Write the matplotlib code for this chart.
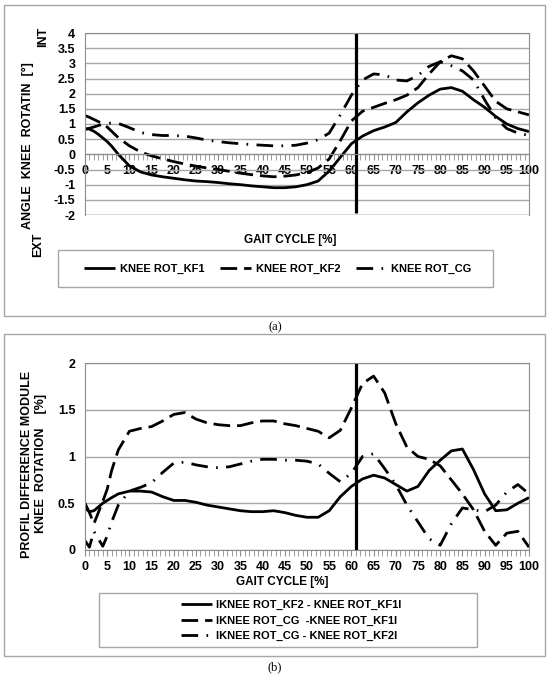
import matplotlib.pyplot as plt
from matplotlib.patches import Rectangle
from matplotlib.ticker import MultipleLocator, FuncFormatter

plt.rcParams['font.family'] = ['Liberation Sans', 'DejaVu Sans']
plt.rcParams['font.weight'] = 'bold'

# gait cycle positions [%]
gait = [0, 1, 2, 3, 4, 5, 6, 7.5, 10, 12.5, 15, 17.5, 20, 22.5, 25, 27.5, 30, 32.5, 35, 37.5,
        40, 42.5, 45, 47.5, 50, 52.5, 55, 57.5, 60, 62.5, 65, 67.5, 70, 72.5, 75, 77.5, 80,
        82.5, 85, 87.5, 90, 92.5, 95, 97.5, 100]

# (a) knee rotation angle [deg]
rot_kf1 = [0.85, 0.83, 0.76, 0.66, 0.54, 0.42, 0.27, 0.0, -0.38, -0.58, -0.68, -0.74, -0.79,
           -0.84, -0.88, -0.9, -0.93, -0.97, -1.0, -1.04, -1.07, -1.1, -1.1, -1.07, -1.0,
           -0.88, -0.55, -0.1, 0.35, 0.6, 0.78, 0.9, 1.05, 1.4, 1.7, 1.95, 2.15, 2.2, 2.08,
           1.8, 1.55, 1.25, 1.0, 0.85, 0.75]
rot_kf2 = [1.28, 1.22, 1.15, 1.08, 1.0, 0.9, 0.76, 0.55, 0.28, 0.08, -0.05, -0.15, -0.24,
           -0.32, -0.39, -0.45, -0.5, -0.56, -0.62, -0.67, -0.71, -0.74, -0.72, -0.68, -0.6,
           -0.45, -0.15, 0.45, 1.1, 1.42, 1.55, 1.68, 1.8, 1.95, 2.2, 2.65, 3.05, 3.25, 3.15,
           2.75, 2.25, 1.75, 1.5, 1.4, 1.3]
rot_cg = [0.82, 0.86, 0.9, 0.95, 0.99, 1.02, 1.03, 1.02, 0.88, 0.72, 0.65, 0.62, 0.62, 0.6,
          0.54, 0.47, 0.42, 0.38, 0.35, 0.32, 0.3, 0.28, 0.28, 0.3, 0.37, 0.48, 0.7, 1.3,
          1.95, 2.45, 2.65, 2.62, 2.45, 2.42, 2.6, 2.9, 3.05, 2.92, 2.75, 2.45, 1.8, 1.2,
          0.85, 0.7, 0.62]

# (b) profile difference module
diff_kf2_kf1 = [0.45, 0.41, 0.42, 0.46, 0.5, 0.53, 0.56, 0.6, 0.63, 0.63, 0.62, 0.57, 0.53,
                0.53, 0.51, 0.48, 0.46, 0.44, 0.42, 0.41, 0.41, 0.42, 0.4, 0.37, 0.35, 0.35,
                0.42, 0.57, 0.68, 0.76, 0.8, 0.77, 0.7, 0.63, 0.68, 0.85, 0.96, 1.06, 1.08,
                0.86, 0.6, 0.42, 0.43, 0.5, 0.56]
diff_cg_kf1 = [0.5, 0.4, 0.28, 0.4, 0.52, 0.65, 0.85, 1.07, 1.27, 1.3, 1.32, 1.38, 1.45, 1.47,
               1.4, 1.36, 1.34, 1.33, 1.33, 1.36, 1.38, 1.38, 1.35, 1.33, 1.3, 1.27, 1.2,
               1.28, 1.52, 1.78, 1.86, 1.68, 1.35, 1.1, 1.0, 0.97, 0.9, 0.75, 0.6, 0.43, 0.2,
               0.05, 0.18, 0.2, 0.03]
diff_cg_kf2 = [0.1, 0.03, 0.2, 0.12, 0.04, 0.15, 0.3, 0.48, 0.63, 0.67, 0.72, 0.83, 0.93, 0.94,
               0.91, 0.89, 0.88, 0.89, 0.92, 0.95, 0.97, 0.97, 0.96, 0.96, 0.95, 0.92, 0.82,
               0.73, 0.82, 1.0, 1.03, 0.87, 0.7, 0.48, 0.3, 0.12, 0.05, 0.28, 0.45, 0.43, 0.41,
               0.48, 0.62, 0.7, 0.6]

toe_off = 61
toe_off_low = -1.95

labels_a = ['KNEE ROT_KF1', 'KNEE ROT_KF2', 'KNEE ROT_CG']
labels_b = ['IKNEE ROT_KF2 - KNEE ROT_KF1I', 'IKNEE ROT_CG  -KNEE ROT_KF1I',
            'IKNEE ROT_CG - KNEE ROT_KF2I']

styles = ['-', (0, (6, 2.5)), (0, (6, 3, 0.6, 3))]
GRAY = '#a6a6a6'
SPINE = '#8c8c8c'

W, H = 550, 677
def fx(px):
    return px / W
def fy(py):
    return 1 - py / H

fig = plt.figure(figsize=(5.5, 6.77), dpi=100)

# outer panel boxes
for top, bottom in [(5, 316), (334, 656)]:
    fig.add_artist(Rectangle((fx(4), fy(bottom)), fx(545) - fx(4), (bottom - top) / H,
                             transform=fig.transFigure, fill=False, ec=GRAY, lw=1))

ax1 = fig.add_axes([fx(85), fy(215), fx(529) - fx(85), (215 - 33) / H])
ax2 = fig.add_axes([fx(85), fy(550), fx(529) - fx(85), (550 - 363) / H])

fmt = FuncFormatter(lambda v, p: '{:g}'.format(v))

for ax, series, labs in [(ax1, [rot_kf1, rot_kf2, rot_cg], labels_a),
                         (ax2, [diff_kf2_kf1, diff_cg_kf1, diff_cg_kf2], labels_b)]:
    for s, ls, lab in zip(series, styles, labs):
        ax.plot(gait, s, color='black', lw=2, linestyle=ls, label=lab,
                solid_joinstyle='round', solid_capstyle='butt')
    ax.set_xlim(0, 100)
    ax.xaxis.set_major_locator(MultipleLocator(5))
    ax.xaxis.set_minor_locator(MultipleLocator(1))
    ax.yaxis.set_major_locator(MultipleLocator(0.5))
    ax.yaxis.set_major_formatter(fmt)
    ax.grid(axis='y', color=GRAY, lw=1)
    ax.set_axisbelow(True)
    for sp in ax.spines.values():
        sp.set_color(SPINE)
    ax.tick_params(axis='x', which='both', direction='out', length=4, color=SPINE,
                   labelsize=9, pad=4)
    ax.tick_params(axis='y', length=0, labelsize=9, pad=7)

ax1.set_ylim(-2, 4)
ax1.spines['bottom'].set_position(('data', 0))
ax1.axhline(-2, color=SPINE, lw=1)
ax1.vlines(toe_off, toe_off_low, 4, color='black', lw=2.3)

ax2.set_ylim(0, 2)
ax2.vlines(toe_off, 0, 2, color='black', lw=2.3)

# legends
fig.legend(*ax1.get_legend_handles_labels(), loc='center', bbox_to_anchor=(fx(278), fy(268.5)),
           ncol=3, frameon=False, handlelength=2.8, columnspacing=1.4, handletextpad=0.4,
           prop={'size': 8, 'weight': 'bold'})
fig.add_artist(Rectangle((fx(58), fy(287)), fx(493) - fx(58), (287 - 250) / H,
                         transform=fig.transFigure, fill=False, ec=GRAY, lw=1))
fig.legend(*ax2.get_legend_handles_labels(), loc='center', bbox_to_anchor=(fx(291), fy(620.5)),
           ncol=1, frameon=False, handlelength=2.8, handletextpad=0.4, labelspacing=0.45,
           prop={'size': 8, 'weight': 'bold'})
fig.add_artist(Rectangle((fx(99), fy(647)), fx(477) - fx(99), (647 - 593) / H,
                         transform=fig.transFigure, fill=False, ec=GRAY, lw=1))

# labels
fig.text(fx(27.5), fy(146), 'ANGLE  KNEE  ROTATIN  [°]', rotation=90, ha='center', va='center', size=9)
fig.text(fx(43), fy(37), 'INT', rotation=90, ha='center', va='center', size=9)
fig.text(fx(38), fy(245), 'EXT', rotation=90, ha='center', va='center', size=9)
fig.text(fx(290), fy(240), 'GAIT CYCLE [%]', ha='center', va='center', size=8.5)
fig.text(fx(275), fy(327), '(a)', ha='center', va='center', size=9,
         family='Liberation Serif', weight='normal')

fig.text(fx(27), fy(464), 'PROFIL DIFFERENCE MODULE', rotation=90, ha='center', va='center', size=9)
fig.text(fx(41), fy(463), 'KNEE  ROTATION    [%]', rotation=90, ha='center', va='center', size=9)
fig.text(fx(282), fy(582), 'GAIT CYCLE [%]', ha='center', va='center', size=8.5)
fig.text(fx(275), fy(667), '(b)', ha='center', va='center', size=9,
         family='Liberation Serif', weight='normal')

fig.savefig('out.png', dpi=100)
